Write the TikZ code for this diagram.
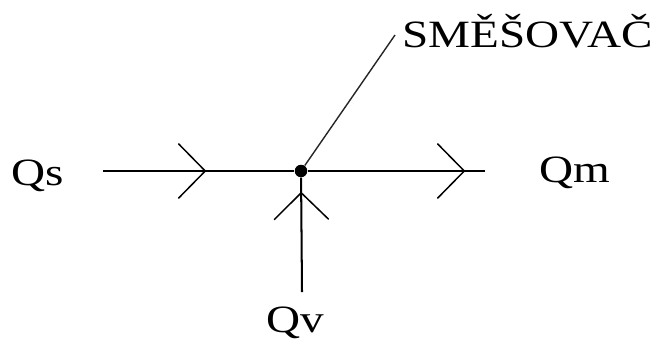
\documentclass[tikz,border=0pt]{standalone}
\usepackage{fontspec}
\setmainfont{Liberation Serif}[FakeStretch=1.22]
\usetikzlibrary{arrows.meta, decorations.markings}
\tikzset{
  flow/.style={line width=1.15pt, black},
  chev/.style={postaction={decorate}, decoration={markings,
      mark=at position #1 with {\arrow{Straight Barb[length=5.3mm,
          width=10.8mm, line width=0.85pt, round]}}}},
  leader/.style={line width=0.8pt, black!85},
  qlabel/.style={anchor=base west, inner sep=0,
                 font=\fontsize{22}{26}\selectfont},
  junction/.style={circle, fill=black, inner sep=0, minimum size=0.25cm},
}
\begin{document}
\begin{tikzpicture}[x=0.02cm, y=-0.02cm]
  \useasboundingbox (0,0) rectangle (665,349);

  % ---- junction ----
  \node[junction] (mix) at (301,171) {};

  % ---- labels ----
  \node[qlabel] (qs)  at (11,185)  {Qs};
  \node[qlabel] (qm)  at (539,182) {Qm};
  \node[qlabel] (qv)  at (266,332) {Qv};
  \node[qlabel] (mixLbl) at (402,47) {SMĚŠOVAČ};

  \coordinate (sIn)    at (103,171);
  \coordinate (mOut)   at (485,171);
  \coordinate (vIn)    at (302,292);
  \coordinate (lblEnd) at (395,35);

  % ---- flows ----
  \draw[flow, chev=2.06cm]  (sIn) -- (mix);
  \draw[flow, chev=-0.4cm]  (mix) -- (mOut);
  \draw[flow, chev=2.0cm]   (vIn) -- (mix);

  % ---- leader to label ----
  \draw[leader] (mix) -- (lblEnd);

\end{tikzpicture}
\end{document}
